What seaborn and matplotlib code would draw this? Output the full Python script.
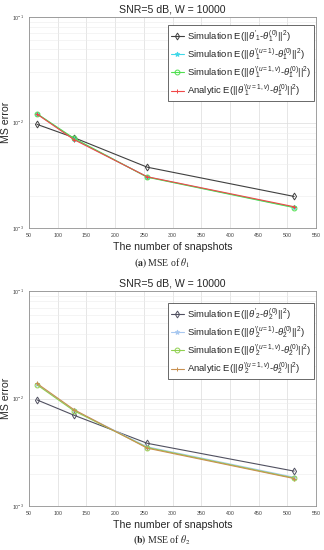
import matplotlib
matplotlib.use("Agg")
import matplotlib.pyplot as plt
import seaborn as sns
import numpy as np
from matplotlib.ticker import LogLocator, NullFormatter, MultipleLocator

sns.set_style("white")
plt.rcParams['font.family'] = ['Liberation Sans', 'DejaVu Sans']
plt.rcParams['mathtext.fontset'] = 'custom'
plt.rcParams['mathtext.rm'] = 'Liberation Sans'
plt.rcParams['mathtext.it'] = 'Liberation Sans:italic'
plt.rcParams['mathtext.bf'] = 'Liberation Sans:bold'

snapshots = [64, 128, 256, 512]

# Panel (a): theta_1
a_sim_prime = [0.0096, 0.0072, 0.00377, 0.00199]
a_sim_u1 = [0.0121, 0.0070, 0.00305, 0.00157]
a_sim_u1v = [0.0121, 0.0071, 0.00303, 0.00156]
a_analytic = [0.0120, 0.0069, 0.00306, 0.00159]

# Panel (b): theta_2
b_sim_prime = [0.0097, 0.0070, 0.00383, 0.00211]
b_sim_u1 = [0.0136, 0.0078, 0.00355, 0.00185]
b_sim_u1v = [0.0134, 0.0077, 0.00350, 0.00182]
b_analytic = [0.0138, 0.0079, 0.00345, 0.00180]

title_text = "SNR=5 dB, W = 10000"
xlabel_text = "The number of snapshots"
ylabel_text = "MS error"

def labels(k):
    return [
        r"Simulation E(||$\theta'_{%d}$-$\theta^{(0)}_{%d}$||$^2$)" % (k, k),
        r"Simulation E(||$\theta'^{(u=1)}_{%d}$-$\theta^{(0)}_{%d}$||$^2$)" % (k, k),
        r"Simulation E(||$\theta'^{(u=1,v)}_{%d}$-$\theta^{(0)}_{%d}$||$^2$)" % (k, k),
        r"Analytic E(||$\theta'^{(u=1,v)}_{%d}$-$\theta^{(0)}_{%d}$||$^2$)" % (k, k),
    ]

W, H = 324, 550
fig = plt.figure(figsize=(W / 100, H / 100), dpi=100)

def px_axes(left, top, right, bottom):
    return fig.add_axes([left / W, 1 - bottom / H, (right - left) / W, (bottom - top) / H])

def draw(ax, series, colors, markers, k, leg_top):
    labs = labels(k)
    for ys, c, m, lab in zip(series, colors, markers, labs):
        mfc = 'none' if m in ('d', 'o') else c
        sns.lineplot(x=snapshots, y=ys, ax=ax, color=c, marker=m, markersize=3.5,
                     markerfacecolor=mfc, markeredgecolor=c, markeredgewidth=0.7,
                     linewidth=0.8, label=lab)
    ax.set_yscale('log')
    ax.set_ylim(1e-3, 1e-1)
    ax.set_xlim(50, 550)
    ax.xaxis.set_major_locator(MultipleLocator(50))
    ax.yaxis.set_major_locator(LogLocator(base=10, numticks=10))
    ax.yaxis.set_minor_locator(LogLocator(base=10, subs=np.arange(2, 10), numticks=20))
    ax.yaxis.set_minor_formatter(NullFormatter())
    ax.tick_params(axis='both', which='both', direction='in', labelsize=3.8,
                   colors='#404040', length=2, width=0.4)
    ax.tick_params(which='minor', length=1.2)
    ax.grid(True, which='major', color='#dcdcdc', linewidth=0.5)
    ax.grid(True, which='minor', axis='y', color='#ececec', linewidth=0.4)
    for s in ax.spines.values():
        s.set_color('#909090')
        s.set_linewidth(0.6)
    ax.set_title(title_text, fontsize=7.6, pad=3)
    ax.set_xlabel(xlabel_text, fontsize=7.6, labelpad=3)
    ax.set_ylabel(ylabel_text, fontsize=7.6)
    ax.yaxis.set_label_coords(-0.064, 0.5)
    leg = ax.legend(loc='upper right', bbox_to_anchor=(0.993, leg_top), fontsize=6.8,
                    frameon=True, fancybox=False, edgecolor='#505050', framealpha=1,
                    handlelength=1.3, handletextpad=0.35, labelspacing=0.25,
                    borderpad=0.3, borderaxespad=0.0)
    leg.get_frame().set_linewidth(0.6)

ax1 = px_axes(29, 17, 316, 228)
draw(ax1, [a_sim_prime, a_sim_u1, a_sim_u1v, a_analytic],
     ['#404040', '#40d8e8', '#50e050', '#f04848'], ['d', '*', 'o', '+'], 1, 0.962)

ax2 = px_axes(29, 291, 316, 506)
draw(ax2, [b_sim_prime, b_sim_u1, b_sim_u1v, b_analytic],
     ['#505060', '#a8c8f0', '#90d050', '#c89050'], ['d', '*', 'o', '+'], 2, 0.944)

fig.text(162 / W, 1 - 263 / H, r"$\mathbf{(a)}$ MSE of $\theta_1$", ha='center', va='center',
         fontsize=7.0, family='Liberation Serif', math_fontfamily='stix')
fig.text(162 / W, 1 - 540 / H, r"$\mathbf{(b)}$ MSE of $\theta_2$", ha='center', va='center',
         fontsize=7.0, family='Liberation Serif', math_fontfamily='stix')

fig.savefig("out.png", dpi=100)
